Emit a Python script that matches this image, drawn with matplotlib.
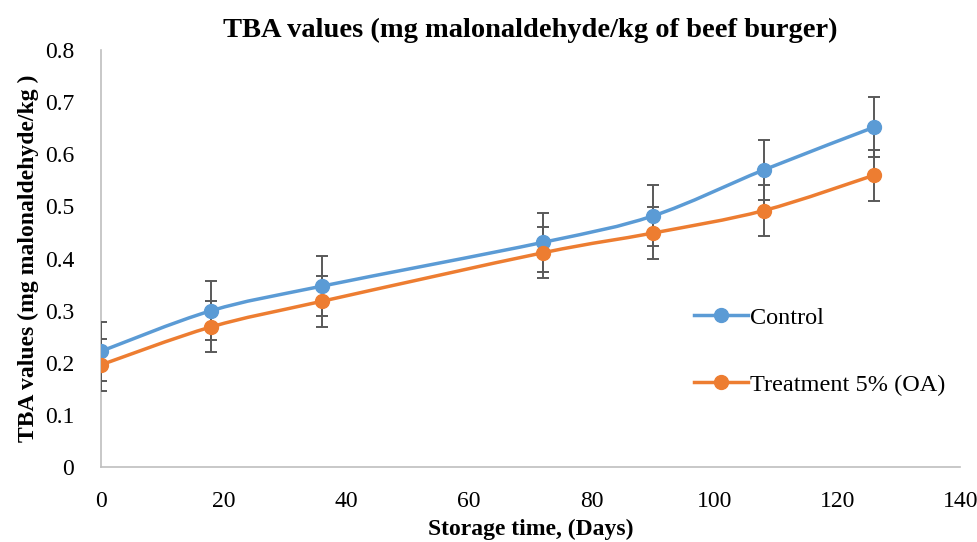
import numpy as np
import matplotlib.pyplot as plt
from matplotlib.path import Path
from matplotlib.patches import PathPatch
from matplotlib.lines import Line2D

plt.rcParams['font.family'] = ['Liberation Serif', 'DejaVu Serif']

days = [0, 18, 36, 72, 90, 108, 126]
control = [0.222, 0.300, 0.347, 0.431, 0.482, 0.570, 0.652]
control_err = [0.056, 0.056, 0.058, 0.057, 0.058, 0.057, 0.058]
treatment = [0.196, 0.269, 0.318, 0.411, 0.449, 0.492, 0.560]
treatment_err = [0.050, 0.049, 0.049, 0.049, 0.050, 0.049, 0.049]

blue = '#5B9BD5'
orange = '#ED7D31'
grey = '#595959'


def smooth_path(x, y):
    # Bezier through the points, like Excel's "smoothed line"
    p = np.column_stack([x, y]).astype(float)
    n = len(p)
    verts = [p[0]]
    codes = [Path.MOVETO]
    for i in range(n - 1):
        p0 = p[i - 1] if i > 0 else p[i]
        p3 = p[i + 2] if i + 2 < n else p[i + 1]
        c1 = p[i] + (p[i + 1] - p0) / 6
        c2 = p[i + 1] - (p3 - p[i]) / 6
        verts += [c1, c2, p[i + 1]]
        codes += [Path.CURVE4] * 3
    return Path(verts, codes)


fig, ax = plt.subplots(figsize=(9.78, 5.42), dpi=100)
fig.subplots_adjust(left=0.103, right=0.982, top=0.908, bottom=0.138)

for ys, err, col in [(control, control_err, blue), (treatment, treatment_err, orange)]:
    ax.add_patch(PathPatch(smooth_path(days, ys), facecolor='none', edgecolor=col,
                           lw=2.5, zorder=2))
    ax.errorbar(days, ys, yerr=err, fmt='none', ecolor=grey, elinewidth=1.4,
                capsize=4, capthick=1.4, zorder=3)
    ax.plot(days, ys, 'o', color=col, markersize=10, zorder=4)

ax.set_xlim(0, 140)
ax.set_ylim(0, 0.8)
ax.set_xticks(range(0, 141, 20))
ax.set_yticks(np.arange(0, 0.81, 0.1))
ax.set_yticklabels(['0', '0.1', '0.2', '0.3', '0.4', '0.5', '0.6', '0.7', '0.8'])
ax.tick_params(length=0, labelsize=17)
ax.tick_params(axis='y', pad=19)
ax.tick_params(axis='x', pad=17)
for s in ['top', 'right']:
    ax.spines[s].set_visible(False)
for s in ['left', 'bottom']:
    ax.spines[s].set_color('#BFBFBF')
    ax.spines[s].set_linewidth(1.2)

ax.set_title('TBA values (mg malonaldehyde/kg of beef burger)', fontsize=20.5,
             fontweight='bold', pad=9)
ax.set_xlabel('Storage time, (Days)', fontsize=17, fontweight='bold', labelpad=5)
ax.set_ylabel('TBA values (mg malonaldehyde/kg )', fontsize=17, fontweight='bold',
              labelpad=4)

handles = [Line2D([], [], color=blue, lw=2.5, marker='o', markersize=10),
           Line2D([], [], color=orange, lw=2.5, marker='o', markersize=10)]
ax.legend(handles, ['Control', 'Treatment 5% (OA)'], loc='upper left',
          bbox_to_anchor=(0.665, 0.437), frameon=False, fontsize=17.5,
          labelspacing=1.85, handlelength=2.2, handletextpad=0.1)

plt.savefig('out.png', dpi=100)
